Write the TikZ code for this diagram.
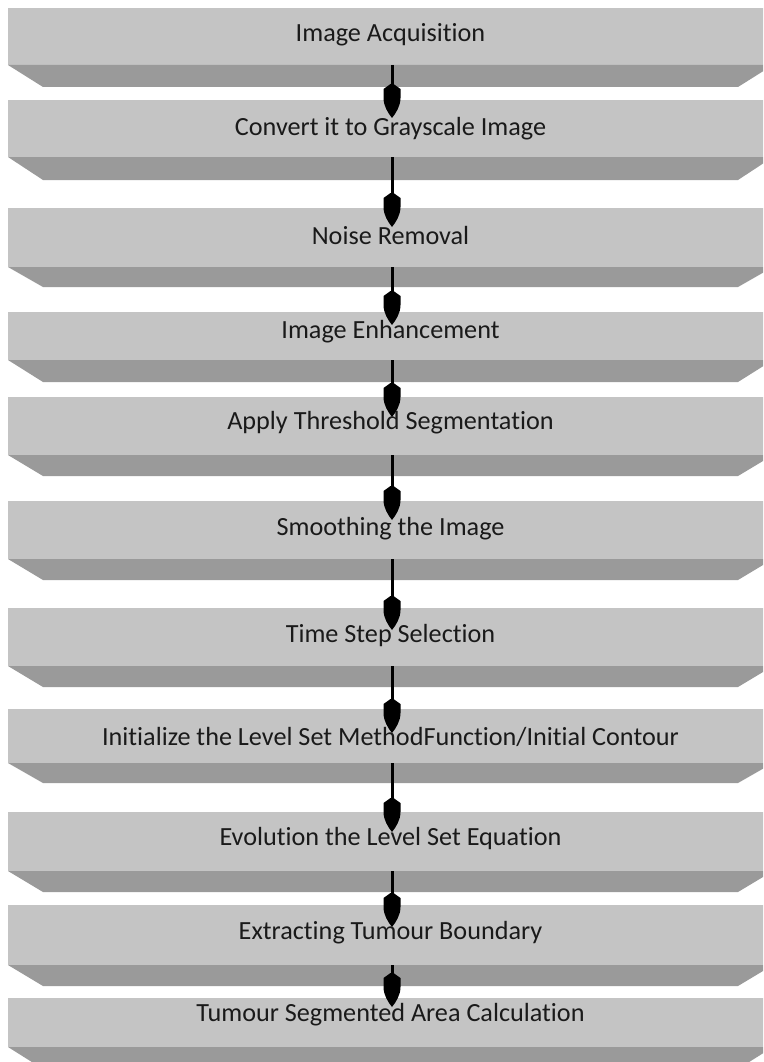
\documentclass[tikz,border=0pt]{standalone}
\usepackage{fontspec}
\setmainfont{Carlito}[Ligatures=NoCommon]
\usetikzlibrary{arrows.meta,calc}
\definecolor{facec}{HTML}{C4C4C4}
\definecolor{bevc}{HTML}{9A9A9A}
\definecolor{txtc}{HTML}{1A1A1A}
\pgfdeclarearrow{
  name = BulletHead,
  setup code = {
    \pgfarrowssettipend{0pt}
    \pgfarrowssetbackend{-34pt}
    \pgfarrowssetlineend{-30pt}
    \pgfarrowsupperhullpoint{0pt}{0pt}
    \pgfarrowsupperhullpoint{-29pt}{8.5pt}
    \pgfarrowsupperhullpoint{-34pt}{1.5pt}
  },
  drawing code = {
    \pgfpathmoveto{\pgfqpoint{0pt}{0pt}}
    \pgfpathcurveto{\pgfqpoint{-5pt}{4pt}}{\pgfqpoint{-12pt}{8.5pt}}{\pgfqpoint{-20pt}{8.5pt}}
    \pgfpathlineto{\pgfqpoint{-29pt}{8.5pt}}
    \pgfpathlineto{\pgfqpoint{-34pt}{1.5pt}}
    \pgfpathlineto{\pgfqpoint{-34pt}{-1.5pt}}
    \pgfpathlineto{\pgfqpoint{-29pt}{-8.5pt}}
    \pgfpathlineto{\pgfqpoint{-20pt}{-8.5pt}}
    \pgfpathcurveto{\pgfqpoint{-12pt}{-8.5pt}}{\pgfqpoint{-5pt}{-4pt}}{\pgfqpoint{0pt}{0pt}}
    \pgfpathclose
    \pgfusepathqfill
  }
}
\newcommand{\stagebox}[6]{%
  \node[face, minimum height=#3pt-#2pt] (b#1) at (8,#2) {};
  \fill[bevc] (b#1.south west) -- (b#1.south east) -- ++(-35,#4-#3) -- ($(b#1.south west)+(35,#4-#3)$) -- cycle;
  \node[lbl] (t#1) at (390.5,#5+2) {#6};
}
\begin{document}
\begin{tikzpicture}[x=1pt,y=-1pt,
  face/.style={rectangle, fill=facec, draw=none, anchor=north west, minimum width=765pt, inner sep=0pt, outer sep=0pt},
  lbl/.style={text=txtc, font=\fontsize{26.2}{30}\selectfont, inner sep=0pt},
  arr/.style={draw=black, fill=black, line width=3pt, -{BulletHead}}]
\useasboundingbox[fill=white] (0,0) rectangle (763,1062);
\begin{scope}
\clip (0,0) rectangle (763,1062);
\stagebox{1}{8}{65}{87}{33}{Image Acquisition}
\stagebox{2}{100}{157}{180}{127}{Convert it to Grayscale Image}
\stagebox{3}{208}{267}{287}{233}{Noise Removal}
\stagebox{4}{312}{360}{382}{330}{Image Enhancement}
\stagebox{5}{397}{455}{476}{421}{Apply Threshold Segmentation}
\stagebox{6}{501}{559}{580}{527}{Smoothing the Image}
\stagebox{7}{608}{666}{687}{634}{Time Step Selection}
\stagebox{8}{709}{763}{783}{735}{Initialize the Level Set MethodFunction/Initial Contour}
\stagebox{9}{812}{871}{892}{837}{Evolution the Level Set Equation}
\stagebox{10}{905}{965}{986}{931}{Extracting Tumour Boundary}
\stagebox{11}{998}{1047}{1069}{1013}{Tumour Segmented Area Calculation}
\coordinate (e2) at (392,118);
\coordinate (e3) at (392,227);
\coordinate (e4) at (392,325);
\coordinate (e5) at (392,417);
\coordinate (e6) at (392,520);
\coordinate (e7) at (392,630);
\coordinate (e8) at (392,733);
\coordinate (e9) at (392,832);
\coordinate (e10) at (392,927);
\coordinate (e11) at (392,1007);
\foreach \i/\j in {1/2,2/3,3/4,4/5,5/6,6/7,7/8,8/9,9/10,10/11}{
  \draw[arr] (b\i.south -| e\j) -- (e\j);
}
\end{scope}
\end{tikzpicture}
\end{document}
